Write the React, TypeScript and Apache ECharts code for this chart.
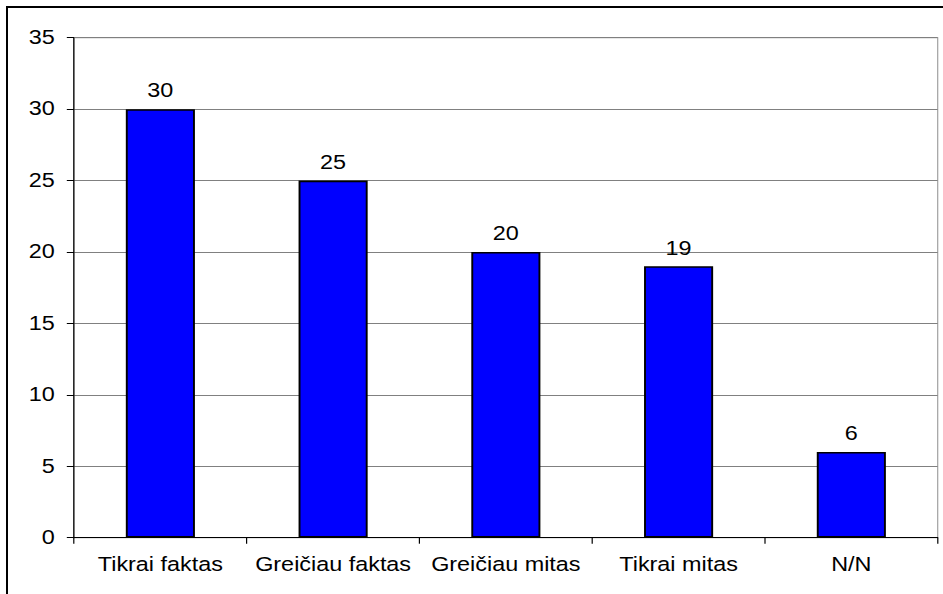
import { useEffect, useRef } from "react";
import * as echarts from "echarts";

const categories = ["Tikrai faktas", "Greičiau faktas", "Greičiau mitas", "Tikrai mitas", "N/N"];
const values = [30, 25, 20, 19, 6];
const yMin = 0;
const yMax = 35;
const yStep = 5;

const STRETCH = 1.2;
const W = 943;
const H = 594;
const innerW = W / STRETCH;
const FONT = "'Liberation Sans', Arial, sans-serif";

export default function App() {
  const ref = useRef<HTMLDivElement>(null);
  useEffect(() => {
    const chart = echarts.init(ref.current!, null, { renderer: "svg", width: innerW, height: H });
    chart.setOption({
      animation: false,
      backgroundColor: "#ffffff",
      grid: {
        left: 74 / STRETCH,
        right: innerW - 937.7 / STRETCH,
        top: 37.7,
        bottom: 56.3,
        show: true,
        borderColor: "#a0a0a0",
        borderWidth: 1,
        containLabel: false,
      },
      xAxis: {
        type: "category",
        data: categories,
        boundaryGap: true,
        axisLine: { show: true, lineStyle: { color: "#000", width: 1 } },
        axisTick: { show: true, length: 6, alignWithLabel: false, lineStyle: { color: "#000", width: 1 } },
        axisLabel: { color: "#000", fontSize: 19.5, fontFamily: FONT, margin: 17, interval: 0 },
        splitLine: { show: false },
      },
      yAxis: {
        type: "value",
        min: yMin,
        max: yMax,
        interval: yStep,
        axisLine: { show: true, lineStyle: { color: "#000", width: 1 } },
        axisTick: { show: true, length: 6, lineStyle: { color: "#000", width: 1 } },
        axisLabel: { color: "#000", fontSize: 19.5, fontFamily: FONT, margin: 16 },
        splitLine: { show: true, lineStyle: { color: "#808080", width: 1 } },
      },
      series: [
        {
          type: "bar",
          data: values,
          barWidth: "40%",
          itemStyle: { color: "#0000ff", borderColor: "#000", borderWidth: 1.6 },
          label: {
            show: true,
            position: "top",
            distance: 8,
            color: "#000",
            fontSize: 19.5,
            fontFamily: FONT,
          },
        },
      ],
    });
    return () => chart.dispose();
  }, []);
  return (
    <div
      style={{
        position: "fixed",
        left: 0,
        top: 0,
        width: W,
        height: H,
        overflow: "hidden",
        background: "#fff",
      }}
    >
      <div
        ref={ref}
        style={{
          width: innerW,
          height: H,
          transform: `scaleX(${STRETCH})`,
          transformOrigin: "0 0",
        }}
      />
      <div
        style={{
          position: "absolute",
          left: 6,
          top: 6,
          right: -10,
          bottom: -10,
          borderTop: "2px solid #000",
          borderLeft: "2px solid #000",
          pointerEvents: "none",
        }}
      />
    </div>
  );
}
